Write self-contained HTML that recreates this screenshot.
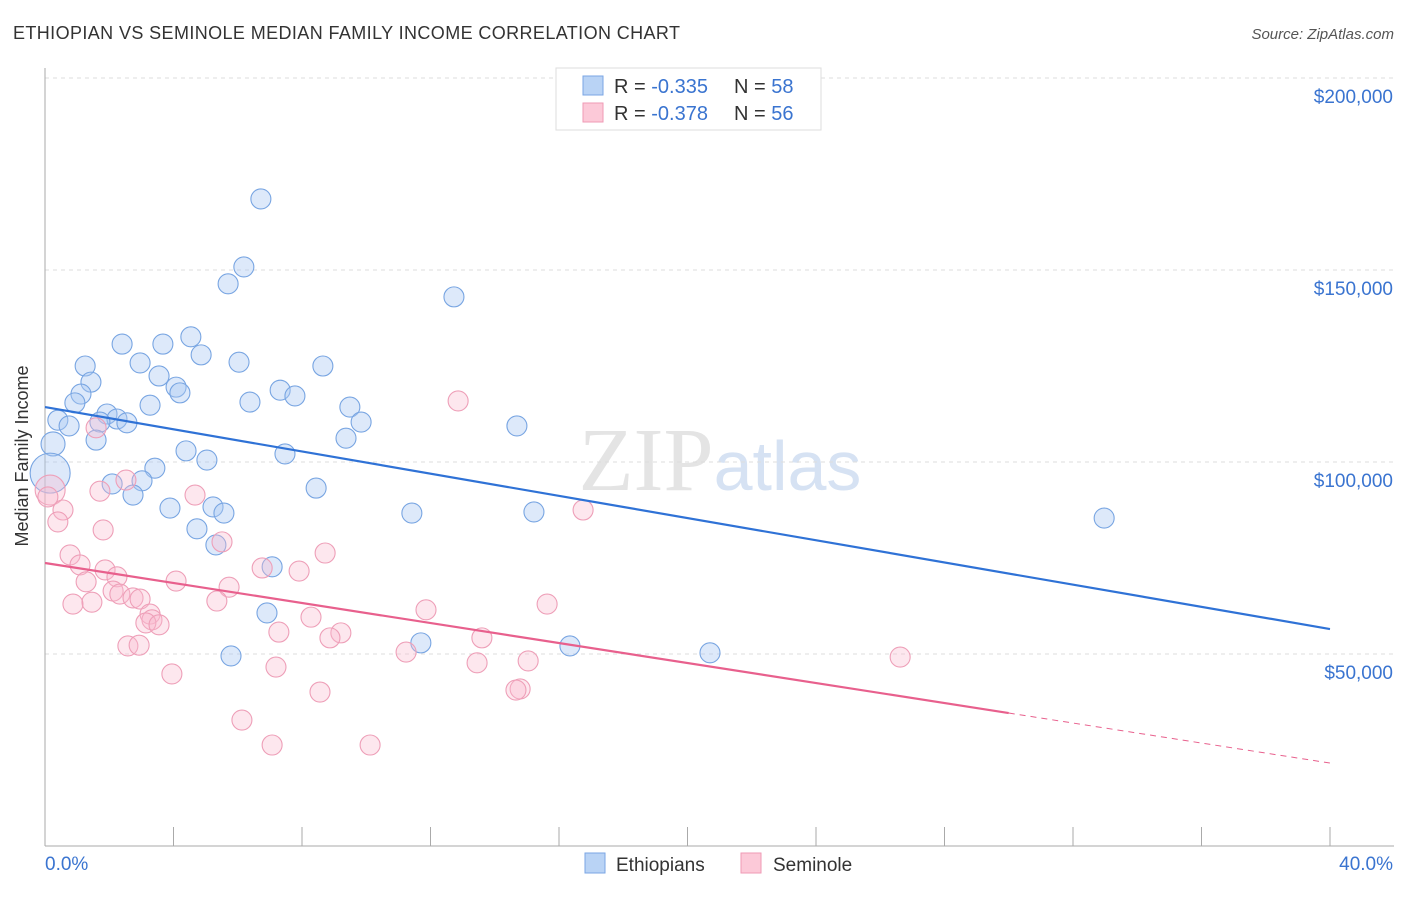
<!DOCTYPE html>
<html><head><meta charset="utf-8"><style>
body{margin:0;background:#fff;font-family:"Liberation Sans",sans-serif}
</style></head><body>
<svg id="chart" width="1406" height="892" xmlns="http://www.w3.org/2000/svg" font-family="Liberation Sans, sans-serif">
<text x="13" y="39" font-size="18" fill="#333" textLength="667" lengthAdjust="spacing">ETHIOPIAN VS SEMINOLE MEDIAN FAMILY INCOME CORRELATION CHART</text>
<text x="1394" y="39" font-size="15" fill="#555" text-anchor="end" font-style="italic">Source: ZipAtlas.com</text>
<text x="720" y="490" font-size="90" text-anchor="middle" fill="#e4e4e4" font-family="Liberation Serif, serif">ZIP<tspan fill="#d6e2f3" font-family="Liberation Sans, sans-serif" font-size="70">atlas</tspan></text>
<g id="grid"></g><g id="axes"></g><g id="pts"></g><g id="lines"></g>
<text transform="translate(28,456) rotate(-90)" font-size="18" fill="#333" text-anchor="middle">Median Family Income</text>
<g>
<rect x="556" y="68" width="265" height="62" fill="#fff" stroke="#ddd"/>
<rect x="583" y="76" width="20" height="19" fill="#b9d3f5" stroke="#7aa6e4"/>
<rect x="583" y="103" width="20" height="19" fill="#fcc9d8" stroke="#ef9ab5"/>
<text x="614" y="93" font-size="20" fill="#333">R = <tspan fill="#3a74d0">-0.335</tspan></text>
<text x="734" y="93" font-size="20" fill="#333">N = <tspan fill="#3a74d0">58</tspan></text>
<text x="614" y="120" font-size="20" fill="#333">R = <tspan fill="#3a74d0">-0.378</tspan></text>
<text x="734" y="120" font-size="20" fill="#333">N = <tspan fill="#3a74d0">56</tspan></text>
</g>
<g>
<rect x="585" y="853" width="20" height="20" fill="#b9d3f5" stroke="#7aa6e4"/>
<text x="616" y="871" font-size="19" fill="#333">Ethiopians</text>
<rect x="741" y="853" width="20" height="20" fill="#fcc9d8" stroke="#ef9ab5"/>
<text x="773" y="871" font-size="19" fill="#333">Seminole</text>
</g>
</svg>
<script>
const yTicks=[50000,100000,150000,200000];
const yTickLabels=["$50,000","$100,000","$150,000","$200,000"];
const xTickLabels=["0.0%","40.0%"];
const blueX=[6.72,6.19,5.70,12.73,4.54,2.40,3.67,4.86,1.25,2.96,6.04,8.65,3.55,1.43,4.08,4.20,1.12,7.32,7.78,6.38,0.93,3.27,9.49,1.93,2.24,0.40,1.71,2.55,0.75,9.84,14.69,9.37,1.59,0.25,4.39,7.47,5.04,0.16,3.42,3.02,2.09,8.44,2.74,3.89,5.23,5.57,11.42,15.22,32.97,4.73,5.32,7.07,6.91,11.70,16.34,5.79,20.70];
const blueY=[168.5,150.8,146.4,143.0,132.6,130.7,130.7,127.9,125.0,125.8,126.0,125.0,122.4,120.8,119.5,118.0,117.7,118.7,117.2,115.6,115.4,114.8,114.3,112.5,111.2,110.9,110.4,110.2,109.4,110.4,109.4,106.2,105.7,104.7,102.9,102.1,100.5,97.1,98.4,95.1,94.3,93.2,91.4,88.0,88.3,86.7,86.7,87.0,85.4,82.6,78.4,72.7,60.7,52.9,52.1,49.5,50.3];
const pinkX=[12.86,1.59,0.16,0.09,1.71,2.52,4.67,0.56,0.40,1.81,16.75,5.51,0.78,1.09,8.72,1.87,2.24,6.76,7.91,4.08,1.28,5.73,2.12,2.33,2.74,2.96,5.35,1.46,0.87,15.63,3.27,11.86,8.28,3.33,3.14,3.55,7.28,9.21,8.87,13.60,2.58,2.93,11.24,26.62,13.45,15.04,7.19,3.95,14.79,14.66,8.56,6.13,7.07,10.12];
const pinkY=[115.9,108.9,92.7,90.9,92.4,95.3,91.4,87.5,84.4,82.3,87.5,79.2,75.8,73.2,76.3,71.9,70.1,72.4,71.6,69.0,68.8,67.4,66.4,65.6,64.6,64.3,63.8,63.5,63.0,63.0,60.4,61.5,59.6,58.9,58.1,57.6,55.7,55.5,54.2,54.2,52.1,52.3,50.5,49.2,47.7,48.2,46.6,44.8,40.9,40.6,40.1,32.8,26.3,26.3];
const blueTrend=[114.3,56.5];
const pinkTrend=[73.7,21.6];
const pinkSolidEnd=30.0;
const xs=x=>45+x*1285/40;
const ys=v=>462-(v-100)*192/50;
const NS="http://www.w3.org/2000/svg";
function mk(parent,tag,attrs){const e=document.createElementNS(NS,tag);for(const k in attrs)e.setAttribute(k,attrs[k]);document.getElementById(parent).appendChild(e);return e;}
yTicks.forEach((t,i)=>{
 const y=ys(t/1000);
 const g=mk('grid','line',{x1:45,x2:1394,y1:y,y2:y,stroke:'#ddd','stroke-dasharray':'4,4'});
 
 
 const l=mk('axes','text',{x:1393,y:y+25,'font-size':19,fill:'#3a74d0','text-anchor':'end'});
 
 
 l.textContent=yTickLabels[i];
});
let a=mk('axes','line',{x1:45,x2:45,y1:68,y2:846,stroke:'#aaa'});


a=mk('axes','line',{x1:45,x2:1394,y1:846,y2:846,stroke:'#aaa'});


for(let i=0;i<=10;i++){const x=xs(i*4);const t=mk('axes','line',{x1:x,x2:x,y1:827,y2:846,stroke:'#aaa'});
 
 }
[[0,'start',45],[1,'end',1393]].forEach(([i,anc,x])=>{const t=mk('axes','text',{x:x,y:870,'font-size':19,fill:'#3a74d0','text-anchor':anc});
 
 
 t.textContent=xTickLabels[i];});
function rad(x,y){ if(x<0.2&&y>96&&y<99)return 20; if(x<0.3&&y>103&&y<106)return 12; if(x<0.2&&y>92&&y<93)return 15; return 10;}
blueX.forEach((x,i)=>{const c=mk('pts','circle',{cx:xs(x),cy:ys(blueY[i]),r:rad(x,blueY[i]),fill:'rgba(170,200,242,0.4)',stroke:'#78a5e2','stroke-width':1.1});
 
 });
pinkX.forEach((x,i)=>{const c=mk('pts','circle',{cx:xs(x),cy:ys(pinkY[i]),r:rad(x,pinkY[i]),fill:'rgba(248,185,205,0.35)',stroke:'#ee9fb8','stroke-width':1.1});
 
 });
let l=mk('lines','line',{x1:xs(0),y1:ys(blueTrend[0]),x2:xs(40),y2:ys(blueTrend[1]),stroke:'#2f72d6','stroke-width':2.2});


const py=x=>pinkTrend[0]+(pinkTrend[1]-pinkTrend[0])*x/40;
l=mk('lines','line',{x1:xs(0),y1:ys(py(0)),x2:xs(pinkSolidEnd),y2:ys(py(pinkSolidEnd)),stroke:'#e8608d','stroke-width':2.2});


l=mk('lines','line',{x1:xs(pinkSolidEnd),y1:ys(py(pinkSolidEnd)),x2:xs(40),y2:ys(py(40)),stroke:'#e8608d','stroke-width':1,'stroke-dasharray':'6,5'});


</script>
</body></html>
